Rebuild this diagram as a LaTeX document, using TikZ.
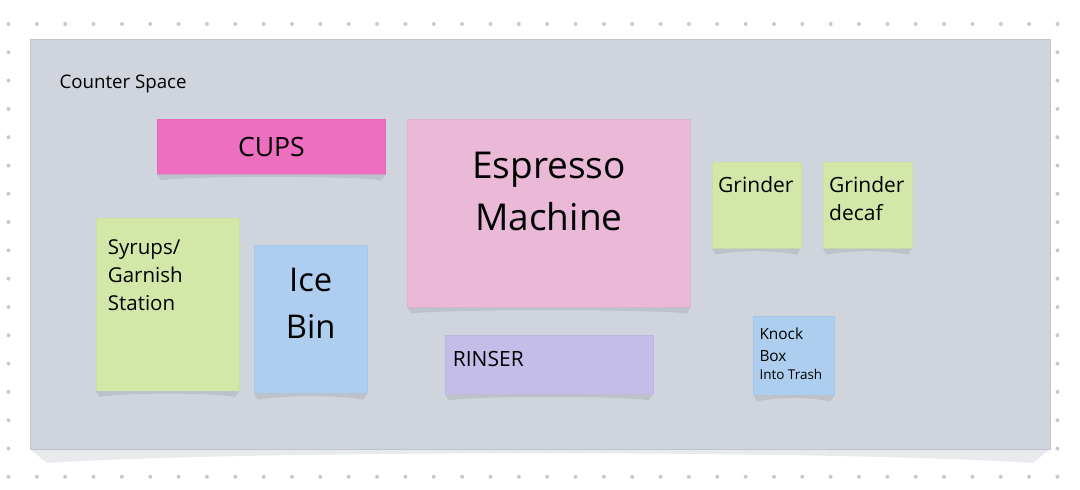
\documentclass[tikz,border=0pt]{standalone}
\usepackage{fontspec}
\setmainfont{Open Sans}
\definecolor{counterfill}{HTML}{D0D4DC}
\definecolor{counterline}{HTML}{C0C4CC}
\definecolor{countershade}{HTML}{E9EAED}
\definecolor{gridDot}{HTML}{C6C9D1}
\definecolor{noteshade}{HTML}{BDC1C9}
\definecolor{cupspink}{HTML}{EE6EC0}
\definecolor{machinepink}{HTML}{EAB9D7}
\definecolor{rinserlilac}{HTML}{C4BDE8}
\definecolor{notegreen}{HTML}{D3E8A8}
\definecolor{noteblue}{HTML}{AECEF0}
\begin{document}
\begin{tikzpicture}[x=1pt,y=-1pt,line join=round,line cap=round,
	note/.style={rectangle,inner sep=0pt,anchor=north west,fill=#1,draw=#1!96!black,line width=0.3pt},
	lbl/.style={inner sep=0pt,text=black},
	fs/.style 2 args={font=\fontsize{#1}{#2}\selectfont}]
	\useasboundingbox (0,0) rectangle (1080,490);
	\fill[countershade] (30,449) -- (47,463) .. controls (250,450) and (830,450) .. (1033,463) -- (1050,449) -- cycle;
	\foreach \i in {0,...,37} \foreach \j in {0,...,16} \fill[gridDot] (8.5+28.35*\i,24+28.3*\j) circle(2);
	\node[note=counterfill,draw=counterline,line width=0.9pt,minimum width=1020,minimum height=410] (counter) at (30,38.7) {};
	\node[lbl,fs={18.7}{22},anchor=base west] (countertext) at ([shift={(29.3,49.6)}]counter.north west) {Counter Space};
	\node[note=cupspink,minimum width=228,minimum height=55,fs={26.6}{32}] (cups) at (157.3,119) {CUPS};
	\node[note=machinepink,minimum width=283,minimum height=188] (machine) at (407.3,119.3) {};
	\node[note=notegreen,minimum width=143,minimum height=173] (syrups) at (95.7,217.7) {};
	\node[note=noteblue,minimum width=113,minimum height=148] (icebin) at (254,245.3) {};
	\node[note=notegreen,minimum width=89,minimum height=86.5] (grinder) at (711.7,161.7) {};
	\node[note=notegreen,minimum width=89,minimum height=86.5] (decaf) at (822.7,161.7) {};
	\node[note=rinserlilac,minimum width=207.5,minimum height=59] (rinser) at (445,335) {};
	\node[note=noteblue,minimum width=80.7,minimum height=79] (knockbox) at (753.3,316) {};
	\foreach \n in {cups,machine,syrups,icebin,grinder,decaf,rinser,knockbox}
		\fill[noteshade] (\n.south west) -- ([shift={(4,6)}]\n.south west) .. controls ([shift={(30,1.5)}]\n.south west) and ([shift={(-30,1.5)}]\n.south east) .. ([shift={(-4,6)}]\n.south east) -- (\n.south east) -- cycle;
	\node[lbl,fs={37}{51.7},align=center,anchor=base] (machinetext) at ([shift={(0,110.7)}]machine.north) {Espresso\\Machine};
	\node[lbl,fs={20.5}{28},align=left,anchor=base west] (syrupstext) at ([shift={(12,92.3)}]syrups.north west) {Syrups/\\Garnish\\Station};
	\node[lbl,fs={32.7}{46.7},align=center,anchor=base] (icebintext) at ([shift={(0,93)}]icebin.north) {Ice\\Bin};
	\node[lbl,fs={21}{27.7},anchor=base west] (grindertext) at ([shift={(6.3,30.6)}]grinder.north west) {Grinder};
	\node[lbl,fs={21}{27.7},align=left,anchor=base west] (decaftext) at ([shift={(6.3,58.3)}]decaf.north west) {Grinder\\decaf};
	\node[lbl,fs={21}{26},anchor=base west] (rinsertext) at ([shift={(7.7,31.7)}]rinser.north west) {RINSER};
	\node[lbl,fs={15.4}{21.7},align=left,anchor=base west] (knocktext) at ([shift={(6,45)}]knockbox.north west) {Knock\\Box};
	\node[lbl,fs={13.5}{16},anchor=base west] (trashtext) at ([shift={(0,18.3)}]knocktext.base west) {Into Trash};
\end{tikzpicture}
\end{document}
